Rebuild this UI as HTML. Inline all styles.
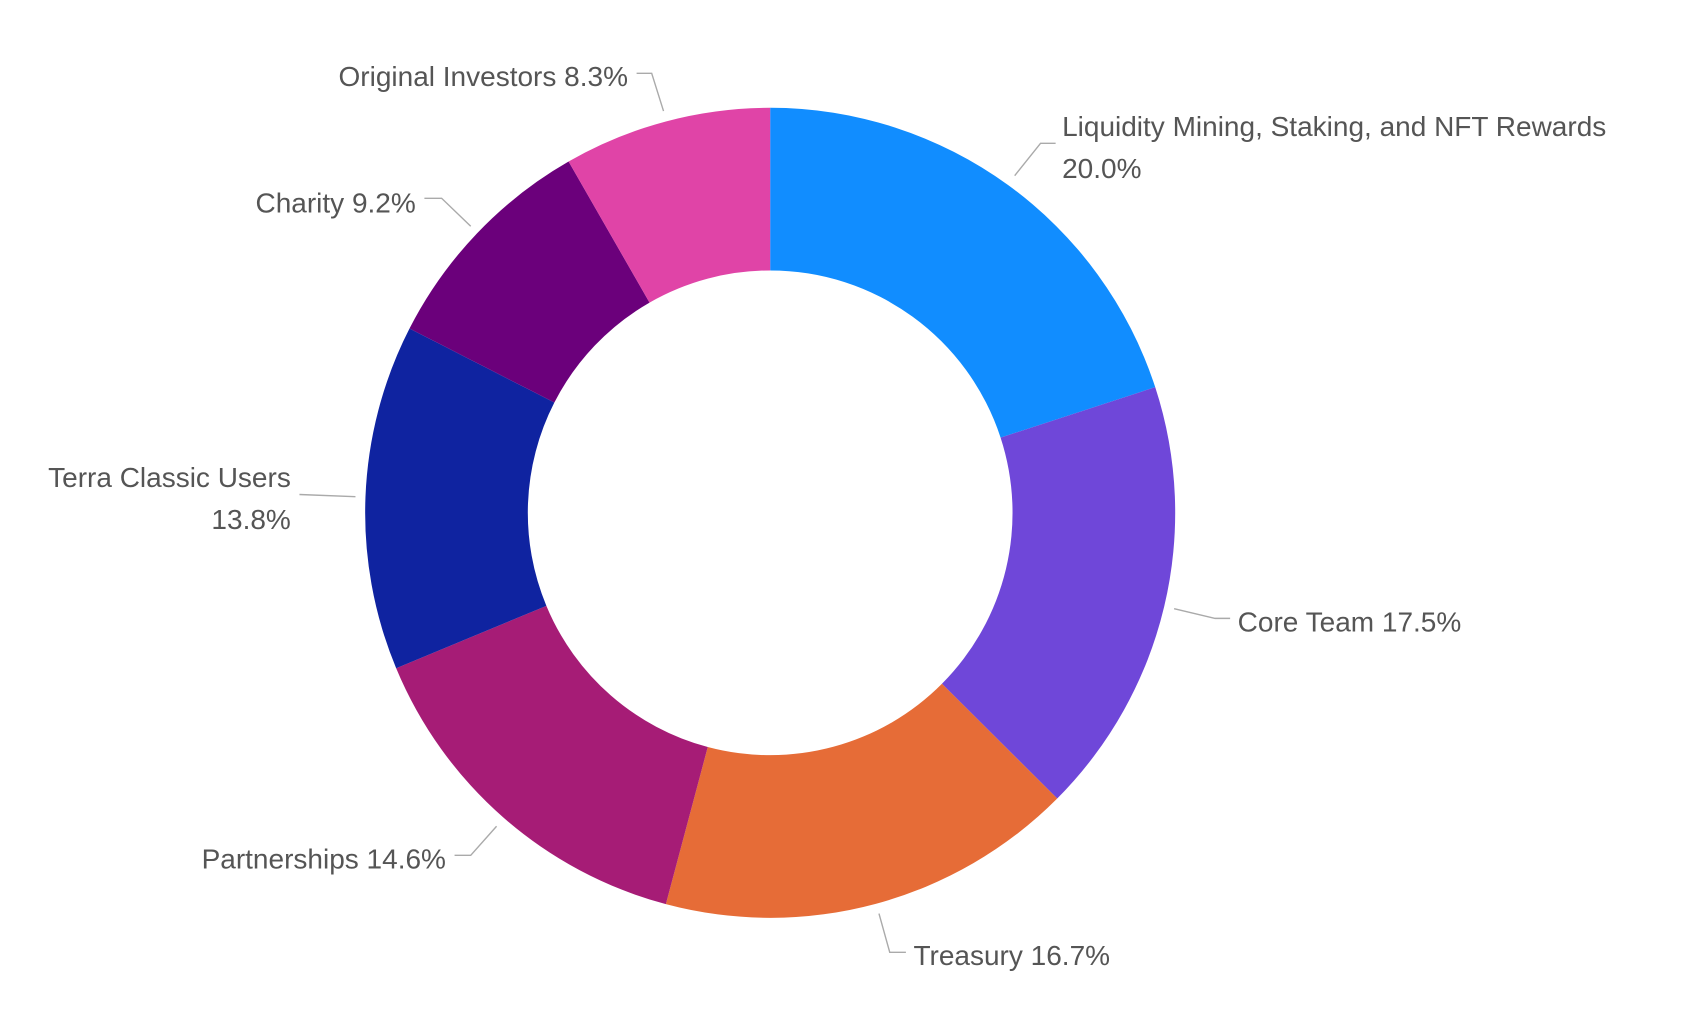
<!DOCTYPE html>
<html><head><meta charset="utf-8"><style>
html,body{margin:0;padding:0;background:#fff;width:1689px;height:1017px;overflow:hidden}
svg{display:block}
text{font-family:"Liberation Sans",sans-serif;font-size:26px;fill:#555555}
</style></head><body>
<svg id="chart" width="1689" height="1017" viewBox="0 0 1568 944" xmlns="http://www.w3.org/2000/svg">
<g id="slices"></g>
<g id="labels"></g>
</svg>
<script>
const categories = ["Liquidity Mining, Staking, and NFT Rewards","Core Team","Treasury","Partnerships","Terra Classic Users","Charity","Original Investors"];
const values = [20.0,17.5,16.7,14.6,13.8,9.2,8.3];
const colors = ["#118DFF","#6F47D9","#E66C37","#A61C76","#0F23A0","#6B007B","#E044A7"];
const cx=715, cy=476, R=376, r=225;
const NS="http://www.w3.org/2000/svg";
const total = values.reduce((a,b)=>a+b,0);
function pt(rad,a){return [cx+rad*Math.sin(a), cy-rad*Math.cos(a)];}
const sg=document.getElementById('slices');
let acc=0;
values.forEach((v,i)=>{
  const a0=acc/total*2*Math.PI; acc+=v; const a1=acc/total*2*Math.PI;
  const large=(a1-a0)>Math.PI?1:0;
  const p0=pt(R,a0),p1=pt(R,a1),q1=pt(r,a1),q0=pt(r,a0);
  const p=document.createElementNS(NS,'path');
  p.setAttribute('d',`M${p0[0]},${p0[1]} A${R},${R} 0 ${large} 1 ${p1[0]},${p1[1]} L${q1[0]},${q1[1]} A${r},${r} 0 ${large} 0 ${q0[0]},${q0[1]} Z`);
  p.setAttribute('fill',colors[i]);
  
  
  sg.appendChild(p);
});
// label layout (positions only)
const layout=[
 {lines:[categories[0], values[0].toFixed(1)+'%'], x:986, y:[126,165], anchor:'start', lead:[[942,163],[966,133],[980,133]]},
 {lines:[categories[1]+' '+values[1].toFixed(1)+'%'], x:1149, y:[586], anchor:'start', lead:[[1090,565],[1128,574],[1142,574]]},
 {lines:[categories[2]+' '+values[2].toFixed(1)+'%'], x:848, y:[896], anchor:'start', lead:[[816,848],[826,884],[841,884]]},
 {lines:[categories[3]+' '+values[3].toFixed(1)+'%'], x:414, y:[806], anchor:'end', lead:[[461,767],[437,794],[422,794]]},
 {lines:[categories[4], values[4].toFixed(1)+'%'], x:270, y:[452,491], anchor:'end', lead:[[330,461],[278,459]]},
 {lines:[categories[5]+' '+values[5].toFixed(1)+'%'], x:386, y:[197], anchor:'end', lead:[[437,210],[410,184],[394,184]]},
 {lines:[categories[6]+' '+values[6].toFixed(1)+'%'], x:583, y:[80], anchor:'end', lead:[[616,103],[605,68],[591,68]]}
];
const lg=document.getElementById('labels');
layout.forEach((L,i)=>{
  const pl=document.createElementNS(NS,'polyline');
  pl.setAttribute('points',L.lead.map(p=>p.join(',')).join(' '));
  pl.setAttribute('fill','none');pl.setAttribute('stroke','#aaaaaa');pl.setAttribute('stroke-width','1.3');
  
  
  lg.appendChild(pl);
  L.lines.forEach((s,j)=>{
    const t=document.createElementNS(NS,'text');
    t.setAttribute('x',L.x);t.setAttribute('y',L.y[j]);t.setAttribute('text-anchor',L.anchor);
    t.textContent=s;
    
    
    lg.appendChild(t);
  });
});
</script>
</body></html>
